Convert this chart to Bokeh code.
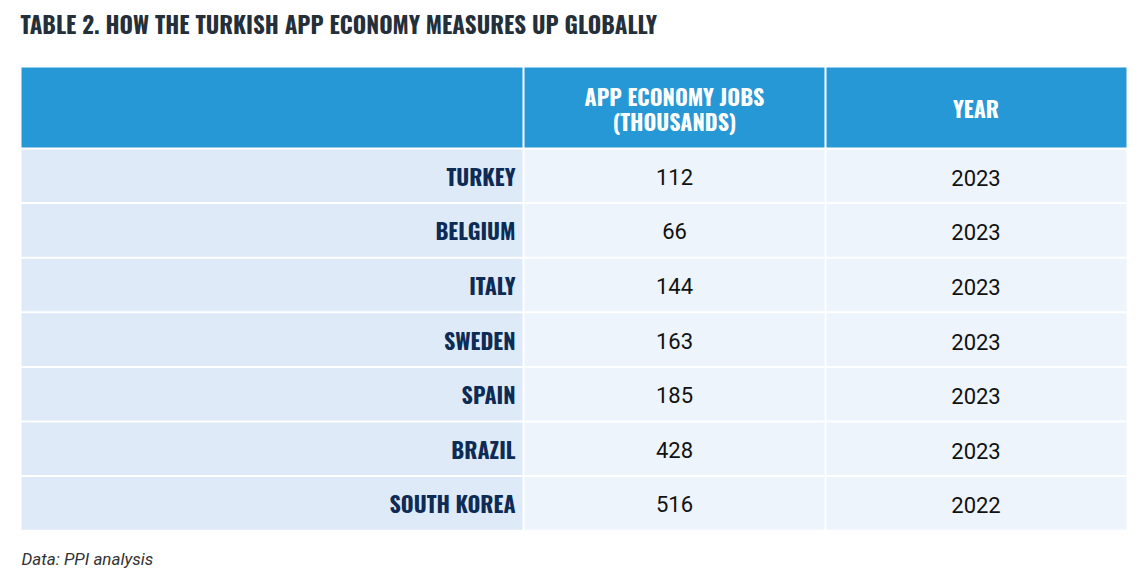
from bokeh.plotting import figure
from bokeh.models import Range1d
from bokeh.core.properties import value
from bokeh.embed import file_html
from bokeh.resources import INLINE

# ---- data ----
title = "TABLE 2. HOW THE TURKISH APP ECONOMY MEASURES UP GLOBALLY"
caption = "Data: PPI analysis"
header_jobs = ["APP ECONOMY JOBS", "(THOUSANDS)"]
header_year = "YEAR"
countries = ["TURKEY", "BELGIUM", "ITALY", "SWEDEN", "SPAIN", "BRAZIL", "SOUTH KOREA"]
jobs = [112, 66, 144, 163, 185, 428, 516]
years = [2023, 2023, 2023, 2023, 2023, 2023, 2022]

# ---- layout ----
W, H = 1128, 568
col_edges = [21, 523, 825, 1126]
head_top, head_bot = 67, 147
row_top0, row_pitch, gap = 149, 54.6, 2

p = figure(width=W, height=H, output_backend="svg", toolbar_location=None,
           x_range=Range1d(0, W), y_range=Range1d(H, 0), min_border=0)
p.axis.visible = False
p.grid.visible = False
p.outline_line_color = None
p.background_fill_color = "white"
p.border_fill_color = "white"

COND = "Oswald, 'Roboto Condensed', sans-serif"

# header cells
hl, hr, ht, hb = [], [], [], []
for c in range(3):
    hl.append(col_edges[c] + (1 if c > 0 else 0))
    hr.append(col_edges[c + 1] - (1 if c < 2 else 0))
    ht.append(head_top)
    hb.append(head_bot)
p.quad(left=hl, right=hr, top=ht, bottom=hb, fill_color="#2698D5", line_color=None)

# body cells
n = len(countries)
bl, br, bt, bb, bc = [], [], [], [], []
for i in range(n):
    top = row_top0 + i * row_pitch
    bot = top + row_pitch - gap
    for c in range(3):
        bl.append(col_edges[c] + (1 if c > 0 else 0))
        br.append(col_edges[c + 1] - (1 if c < 2 else 0))
        bt.append(top)
        bb.append(bot)
        bc.append("#DEEAF7" if c == 0 else "#EDF4FC")
p.quad(left=bl, right=br, top=bt, bottom=bb, fill_color=bc, line_color=None)

row_mid = [row_top0 + i * row_pitch + (row_pitch - gap) / 2 for i in range(n)]

# country names
p.text(x=[col_edges[1] - 8] * n, y=row_mid, text=countries,
       text_font=value(COND), text_font_style="bold", text_font_size="22px",
       text_color="#0D2B55", text_align="right", text_baseline="middle")

# values
mid1 = (col_edges[1] + col_edges[2]) / 2
mid2 = (col_edges[2] + col_edges[3]) / 2
p.text(x=[mid1] * n, y=[m + 1 for m in row_mid], text=[str(v) for v in jobs],
       text_font=value("Roboto"), text_font_size="22px",
       text_color="#111111", text_align="center", text_baseline="middle")
p.text(x=[mid2] * n, y=[m + 2 for m in row_mid], text=[str(v) for v in years],
       text_font=value("Roboto"), text_font_size="22px",
       text_color="#111111", text_align="center", text_baseline="middle")

# header labels
p.text(x=[mid1, mid1], y=[95, 120], text=header_jobs,
       text_font=value(COND), text_font_style="bold", text_font_size="22px",
       text_color="white", text_align="center", text_baseline="middle")
p.text(x=[mid2], y=[107], text=[header_year],
       text_font=value(COND), text_font_style="bold", text_font_size="22px",
       text_color="white", text_align="center", text_baseline="middle")

# title & caption
p.text(x=[20], y=[23], text=[title],
       text_font=value(COND), text_font_style="bold", text_font_size="23px",
       text_color="#252F3A", text_align="left", text_baseline="middle")
p.text(x=[21], y=[558], text=[caption],
       text_font=value("Roboto"), text_font_style="italic", text_font_size="17px",
       text_color="#333333", text_align="left", text_baseline="middle")

open("out.html", "w").write(file_html(p, INLINE))
